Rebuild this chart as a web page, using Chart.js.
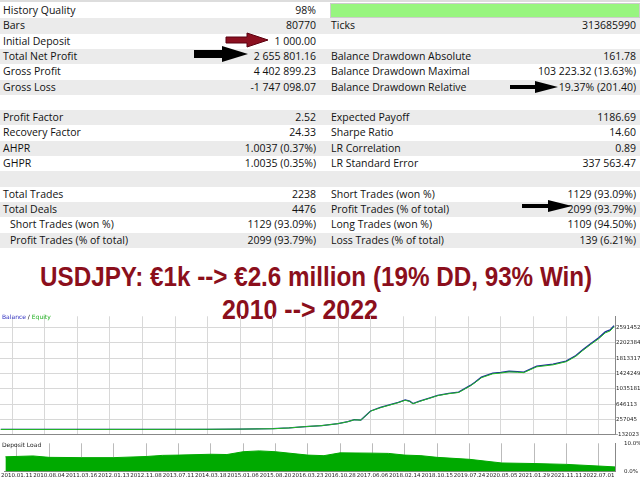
<!DOCTYPE html>
<html><head><meta charset="utf-8">
<script src="https://cdn.jsdelivr.net/npm/chart.js@4"></script>
<style>
body{margin:0;width:640px;height:480px;overflow:hidden;background:#fff;font-family:"Open Sans",sans-serif;position:relative}
.row{position:absolute;left:0;width:640px;height:15.3px;font-size:10.5px;line-height:15.3px;color:#111}
.row span{position:absolute;white-space:nowrap}
.t{position:absolute;white-space:nowrap;color:#8b0f1c;font-family:"Liberation Sans",sans-serif;font-weight:bold;font-size:27px;transform-origin:0 0}
#bal{position:absolute;left:0;top:312px;width:640px;height:127px}
#dep{position:absolute;left:0;top:439px;width:640px;height:41px}
.lbl{position:absolute;font-size:6px;font-family:"DejaVu Sans",sans-serif}
</style></head><body>
<div id="tbl"></div>
<svg style="position:absolute;left:0;top:0" width="640" height="300">
<polygon points="226,37 247,37 247,33 268,40 247,47 247,43 226,43" fill="#8b1020" stroke="#5a0010"/>
<polygon points="194,50 222,50 222,46 248,54 222,62 222,58 194,58" fill="#000"/>
<polygon points="510,85 535,85 535,81 558,87 535,93 535,89 510,89" fill="#000"/>
<polygon points="522,204 548,204 548,200 572,206 548,212 548,208 522,208" fill="#000"/>
</svg>
<div class="t" id="t1" style="top:262px">USDJPY: €1k --&gt; €2.6 million (19% DD, 93% Win)</div>
<div class="t" id="t2" style="top:295px">2010 --&gt; 2022</div>
<div id="bal"><canvas id="c1"></canvas></div>
<div id="dep"><canvas id="c2"></canvas></div>
<div class="lbl" style="left:2px;top:313px"><span style="color:#3030c0">Balance</span> / <span style="color:#20b020">Equity</span></div>
<div class="lbl" style="left:2px;top:441px;color:#222">Deposit Load</div>
<script>
const leftLabels=["History Quality","Bars","Initial Deposit","Total Net Profit","Gross Profit","Gross Loss","","Profit Factor","Recovery Factor","AHPR","GHPR","","Total Trades","Total Deals","Short Trades (won %)","Profit Trades (% of total)"];
const leftValues=["98%","80770","1 000.00","2 655 801.16","4 402 899.23","-1 747 098.07","","2.52","24.33","1.0037 (0.37%)","1.0035 (0.35%)","","2238","4476","1129 (93.09%)","2099 (93.79%)"];
const rightLabels=["","Ticks","","Balance Drawdown Absolute","Balance Drawdown Maximal","Balance Drawdown Relative","","Expected Payoff","Sharpe Ratio","LR Correlation","LR Standard Error","","Short Trades (won %)","Profit Trades (% of total)","Long Trades (won %)","Loss Trades (% of total)"];
const rightValues=["","313685990","","161.78","103 223.32 (13.63%)","19.37% (201.40)","","1186.69","14.60","0.89","337 563.47","","1129 (93.09%)","2099 (93.79%)","1109 (94.50%)","139 (6.21%)"];
const dateLabels=["2010.01.11","2010.08.04","2011.03.16","2012.01.13","2012.11.08","2013.07.11","2014.03.18","2015.01.06","2015.08.20","2016.03.23","2016.10.28","2017.06.06","2018.02.14","2018.10.15","2019.07.24","2020.05.05","2021.01.29","2021.11.11","2022.07.01"];
const balanceX=[-0.35,2,4,6,7,8,8.5,9,9.5,10,10.3,10.5,10.7,11,11.3,11.6,11.85,12.06,12.2,12.3,12.5,12.8,13.06,13.4,13.7,14.06,14.2,14.4,14.75,15.0,15.25,15.5,15.7,16.1,16.6,17.0,17.3,17.5,17.75,18.0,18.2,18.35,18.47];
const balanceY=[1000,1500,2500,5000,10000,20000,40000,75000,100000,150000,200000,250000,240000,470000,560000,630000,690000,750000,720000,660000,720000,800000,870000,920000,950000,1120000,1200000,1330000,1430000,1450000,1480000,1470000,1460000,1610000,1660000,1740000,1880000,2020000,2180000,2330000,2480000,2530000,2640000];
const loadX=[-0.35,0.5,1,2,3,4,4.5,5,6,6.5,7,7.5,8,9,9.5,10,11,11.5,12,12.5,13,14,15,16,17,18,18.5];
const loadY=[5.2,5.5,5.0,4.9,4.9,5.3,5.7,5.8,6.1,6.0,7.0,7.3,7.0,5.8,5.6,6.6,6.5,6.4,5.8,5.6,5.0,4.3,3.0,2.8,2.5,1.9,1.6];
const yTicks=[-132023,257045,646113,1035181,1424249,1813317,2202384,2591452];

let h='';
for(let i=0;i<leftLabels.length;i++){
  const bg=i%2==1?'#ebebeb':'#fff';
  const ind=i>=14?10:3;
  h+=`<div class="row" style="top:${3+i*15.3}px;background:${bg}"><span style="left:${ind}px">${leftLabels[i]}</span><span style="right:324px">${leftValues[i]}</span><span style="left:331px">${rightLabels[i]}</span><span style="right:4px">${rightValues[i]}</span></div>`;
}
document.getElementById('tbl').innerHTML=h+'<div style="position:absolute;left:330px;top:3px;width:308px;height:13px;background:#98f57f;border:1px solid #ccc"></div><div style="position:absolute;left:0;top:0;width:640px;height:2px;background:#ddd"></div>';
function fitT(id,l,w){const e=document.getElementById(id);const s=w/e.offsetWidth;e.style.left=l+'px';e.style.transform=`scaleX(${s})`;}
fitT('t1',40,552);fitT('t2',222,156);

const grid={color:'#d8d8d8',borderDash:[1,2],lineWidth:1,drawTicks:false};
const fit=s=>{s.width=25};
const tf={size:5.5,family:'DejaVu Sans'};
const xs={type:'linear',min:-0.375,max:18.5,grid:grid,border:{color:'#888'},afterBuildTicks:s=>{s.ticks=dateLabels.map((_,i)=>({value:i}))}};
new Chart(document.getElementById('c1'),{type:'line',
 data:{datasets:[
  {data:balanceX.map((x,i)=>({x,y:balanceY[i]*0.99})),borderColor:'#22bb22',borderWidth:1,pointRadius:0},
  {data:balanceX.map((x,i)=>({x,y:balanceY[i]})),borderColor:'#1a2a9a',borderWidth:1.3,pointRadius:0}]},
 options:{animation:false,responsive:true,maintainAspectRatio:false,layout:{padding:0},
  plugins:{legend:{display:false},tooltip:{enabled:false}},
  scales:{x:{...xs,ticks:{display:false}},
   y:{position:'right',min:-132023,max:2877000,grid:grid,border:{color:'#888'},afterFit:fit,
    afterBuildTicks:s=>{s.ticks=yTicks.map(v=>({value:v}))},
    ticks:{font:tf,color:'#222',padding:1,callback:v=>String(v)}}}}});
new Chart(document.getElementById('c2'),{type:'line',
 data:{datasets:[{data:loadX.map((x,i)=>({x,y:loadY[i]})),borderColor:'#00aa00',backgroundColor:'#00aa00',fill:'origin',borderWidth:1,pointRadius:0}]},
 options:{animation:false,responsive:true,maintainAspectRatio:false,layout:{padding:0},
  plugins:{legend:{display:false},tooltip:{enabled:false}},
  scales:{x:{...xs,grid:{...grid,color:'#bbb'},ticks:{font:tf,color:'#222',padding:1,maxRotation:0,autoSkip:false,callback:v=>dateLabels[v]}},
   y:{position:'right',min:0,max:10,grid:{display:false},border:{color:'#888'},afterFit:fit,
    afterBuildTicks:s=>{s.ticks=[{value:0},{value:10}]},
    ticks:{font:tf,color:'#222',padding:1,callback:v=>v.toFixed(1)+'%'}}}}});
</script></body></html>
